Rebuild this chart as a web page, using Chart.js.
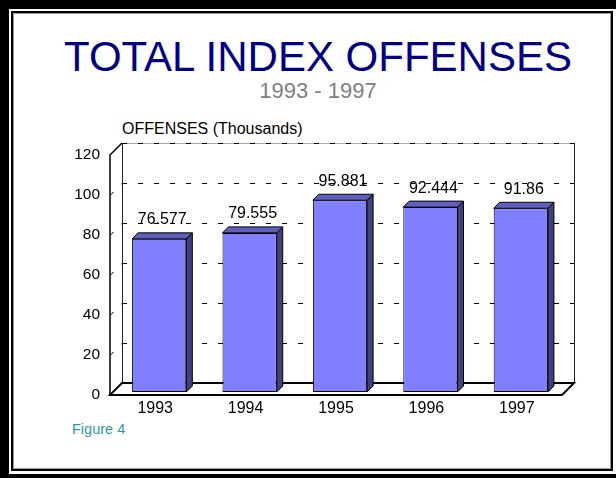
<!DOCTYPE html>
<html>
<head>
<meta charset="utf-8">
<script src="https://cdn.jsdelivr.net/npm/chart.js@4.4.1/dist/chart.umd.min.js"></script>
<style>
  html, body { margin: 0; padding: 0; background: #fff; }
  body { width: 616px; height: 478px; position: relative; overflow: hidden; font-family: "Liberation Sans", Arial, sans-serif; }
  .outer { position: absolute; left: 0; top: 0; width: 616px; height: 478px; box-sizing: border-box;
           border-left: 9px solid #000; border-top: 9px solid #000; border-bottom: 4px solid #000; }
  .inner { position: absolute; left: 11px; top: 11px; width: 602px; height: 460px; box-sizing: border-box;
           border: 2px solid #000; box-shadow: inset 0 0 0 1px #999; }
  .txt { position: absolute; white-space: nowrap; line-height: 1; }
  #title { left: 0; width: 636px; text-align: center; top: 36px; font-size: 42px; color: #000080; }
  #subtitle { left: 0; width: 636px; text-align: center; top: 80px; font-size: 22px; color: #808080; }
  #ytitle { left: 122px; top: 121px; font-size: 16px; color: #000; }
  #figure { left: 72px; top: 422px; font-size: 14.5px; color: #2e9a9a; }
  #wrap { position: absolute; left: 0; top: 0; width: 616px; height: 478px; }
</style>
</head>
<body>
<div class="outer"></div>
<div class="inner"></div>
<div class="txt" id="title">TOTAL INDEX OFFENSES</div>
<div class="txt" id="subtitle">1993 - 1997</div>
<div class="txt" id="ytitle">OFFENSES (Thousands)</div>
<div class="txt" id="figure">Figure 4</div>
<div id="wrap"><canvas id="grafico" width="616" height="478"></canvas></div>

<script>
'use strict';

// Dati: reati indice totali (migliaia)
const years    = ['1993', '1994', '1995', '1996', '1997'];
const offenses = [76.577, 79.555, 95.881, 92.444, 91.86];
const yMin = 0, yMax = 120, yStep = 20;

// Profondità del "finto 3D"
const WALL = 12;      // spostamento parete di fondo
const BAR_SHIFT = { x: 4, y: -3 };  // faccia frontale delle barre dentro la profondità
const BAR_DEPTH = 6;

const FONT = '"Liberation Sans", Arial, sans-serif';

// Pareti, pavimento e griglia tratteggiata
const frame3d = {
  id: 'frame3d',
  beforeDatasetsDraw(chart) {
    const { ctx, chartArea: a, scales: { y } } = chart;
    const L = a.left, R = a.right, T = a.top, B = a.bottom;
    ctx.save();

    // griglia sulla parete di fondo e sul fianco
    ctx.strokeStyle = '#000';
    ctx.lineWidth = 1;
    ctx.setLineDash([5, 11]);
    for (let v = yMin + yStep; v < yMax; v += yStep) {
      const py = Math.round(y.getPixelForValue(v)) + 0.5;
      ctx.beginPath();
      ctx.moveTo(L + WALL, py - WALL);
      ctx.lineTo(R + WALL, py - WALL);
      ctx.stroke();
      ctx.beginPath();
      ctx.moveTo(L, py);
      ctx.lineTo(L + WALL, py - WALL);
      ctx.stroke();
    }
    // bordo superiore della parete
    ctx.setLineDash([]);
    ctx.strokeStyle = '#aaa';
    ctx.beginPath();
    ctx.moveTo(L + WALL, T - WALL + 0.5);
    ctx.lineTo(R + WALL, T - WALL + 0.5);
    ctx.stroke();
    ctx.strokeStyle = '#000';
    ctx.setLineDash([5, 11]);
    ctx.beginPath();
    ctx.moveTo(L + WALL, T - WALL + 0.5);
    ctx.lineTo(R + WALL, T - WALL + 0.5);
    ctx.stroke();
    ctx.setLineDash([]);

    // spigoli verticali della parete
    ctx.strokeStyle = '#222';
    ctx.beginPath();
    ctx.moveTo(L + WALL + 0.5, T - WALL);
    ctx.lineTo(L + WALL + 0.5, B - WALL);
    ctx.moveTo(R + WALL + 0.5, T - WALL);
    ctx.lineTo(R + WALL + 0.5, B - WALL);
    ctx.stroke();

    // asse frontale e diagonale in alto
    ctx.strokeStyle = '#000';
    ctx.lineWidth = 1.5;
    ctx.beginPath();
    ctx.moveTo(L + WALL, T - WALL);
    ctx.lineTo(L, T);
    ctx.lineTo(L, B);
    ctx.stroke();

    // pavimento
    ctx.lineWidth = 2;
    ctx.beginPath();
    ctx.moveTo(L, B);
    ctx.lineTo(L + WALL, B - WALL);
    ctx.lineTo(R + WALL, B - WALL);
    ctx.lineTo(R, B);
    ctx.closePath();
    ctx.stroke();

    ctx.restore();
    ctx.save();
    ctx.translate(BAR_SHIFT.x, BAR_SHIFT.y);
  },
  afterDatasetsDraw(chart) {
    const { ctx } = chart;
    const meta = chart.getDatasetMeta(0);
    // facce laterali e superiori delle barre (ancora traslate)
    meta.data.forEach(bar => {
      const { x, y, base, width } = bar.getProps(['x', 'y', 'base', 'width'], true);
      const x1 = x - width / 2, x2 = x + width / 2, d = BAR_DEPTH;
      ctx.lineWidth = 1;
      ctx.strokeStyle = '#000';
      ctx.fillStyle = '#40407f';
      ctx.beginPath();
      ctx.moveTo(x2, y);
      ctx.lineTo(x2 + d, y - d);
      ctx.lineTo(x2 + d, base - d);
      ctx.lineTo(x2, base);
      ctx.closePath();
      ctx.fill();
      ctx.stroke();
      ctx.fillStyle = '#5f5fbf';
      ctx.beginPath();
      ctx.moveTo(x1, y);
      ctx.lineTo(x1 + d, y - d);
      ctx.lineTo(x2 + d, y - d);
      ctx.lineTo(x2, y);
      ctx.closePath();
      ctx.fill();
      ctx.stroke();
    });
    ctx.restore();

    // etichette dei valori
    ctx.save();
    ctx.fillStyle = '#000';
    ctx.font = '16px ' + FONT;
    ctx.textAlign = 'center';
    ctx.textBaseline = 'middle';
    meta.data.forEach((bar, i) => {
      const { x, y } = bar.getProps(['x', 'y'], true);
      ctx.fillText(String(offenses[i]), x + BAR_SHIFT.x + 3, y - 22);
    });
    ctx.restore();
  }
};

new Chart(document.getElementById('grafico').getContext('2d'), {
  type: 'bar',
  data: {
    labels: years,
    datasets: [{
      data: offenses,
      backgroundColor: '#8080ff',
      borderColor: '#000',
      borderWidth: 1,
      borderSkipped: false,
      barPercentage: 0.6,
      categoryPercentage: 1
    }]
  },
  options: {
    responsive: false,
    animation: false,
    events: [],
    layout: { padding: { top: 155, right: 54, bottom: 0, left: 0 } },
    plugins: { legend: { display: false }, tooltip: { enabled: false } },
    scales: {
      x: {
        grid: { display: false, drawTicks: false },
        border: { display: false },
        ticks: { color: '#000', font: { family: FONT, size: 16 }, padding: 4, maxRotation: 0 },
        afterFit(scale) { scale.height = 83; }
      },
      y: {
        min: yMin, max: yMax,
        grid: { display: false, drawTicks: false },
        border: { display: false },
        ticks: { stepSize: yStep, color: '#000', font: { family: FONT, size: 15.5 }, padding: 10 },
        afterFit(scale) { scale.width = 110; }
      }
    }
  },
  plugins: [frame3d]
});
</script>
</body>
</html>
